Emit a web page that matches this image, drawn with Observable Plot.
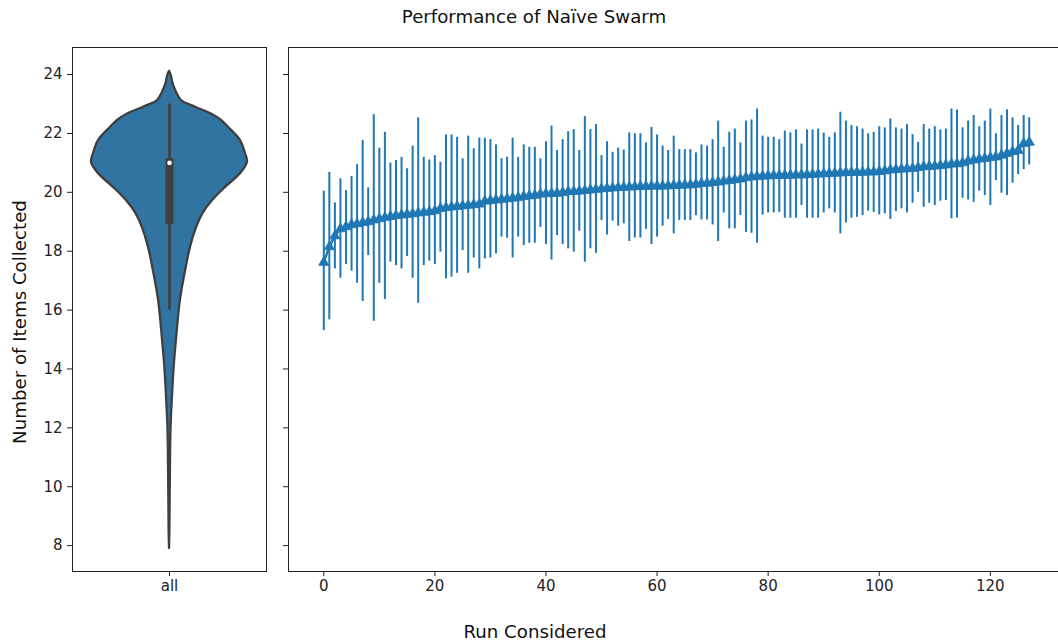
<!DOCTYPE html>
<html><head><meta charset="utf-8">
<script src="https://cdn.jsdelivr.net/npm/d3@7"></script>
<script src="https://cdn.jsdelivr.net/npm/@observablehq/plot@0.6"></script>
<style>
body{margin:0;background:#fff;}
#wrap{position:relative;width:1058px;height:644px;overflow:hidden;background:#fff;font-family:"DejaVu Sans",sans-serif;}
#wrap svg{position:absolute;max-width:none;}
</style></head><body>
<div id="wrap"></div>
<script>
// ---- Text ----
const titleText = "Performance of Naïve Swarm";
const yLabelText = "Number of Items Collected";
const xLabelText = "Run Considered";
const violinCategory = "all";

// ---- Axis ticks ----
const yTicks = [8, 10, 12, 14, 16, 18, 20, 22, 24];
const xTicks = [0, 20, 40, 60, 80, 100, 120];

// ---- Violin (left panel): value vs half-width (density) ----
const violinY = [24.11, 23.95, 23.7, 23.4, 23.12, 22.89, 22.66, 22.44, 22.21, 21.76, 21.31, 21.02, 20.63, 20.17, 19.72, 19.27, 18.81, 18.13, 17.23, 16.32, 15.0, 14.06, 13.0, 12.0, 10.0, 8.5, 7.9];
const violinW = [0, 0.010, 0.018, 0.036, 0.062, 0.134, 0.216, 0.268, 0.304, 0.366, 0.392, 0.402, 0.366, 0.289, 0.222, 0.172, 0.140, 0.108, 0.080, 0.056, 0.036, 0.024, 0.015, 0.008, 0.004, 0.002, 0];
// inner box
const boxQ1 = 18.9, boxMedian = 21.0, boxQ3 = 21.15, whiskerLow = 16.0, whiskerHigh = 23.0;

// ---- Per-run error bars (right panel) ----
const meanItems = [
17.62, 18.15, 18.52, 18.76, 18.83, 18.90, 18.93, 18.97, 19.00, 19.06,
19.10, 19.14, 19.18, 19.21, 19.23, 19.25, 19.27, 19.30, 19.32, 19.34,
19.37, 19.45, 19.48, 19.50, 19.52, 19.54, 19.56, 19.58, 19.60, 19.70,
19.72, 19.74, 19.76, 19.78, 19.80, 19.82, 19.86, 19.88, 19.90, 19.94,
19.95, 19.96, 19.97, 19.99, 20.02, 20.03, 20.04, 20.06, 20.08, 20.10,
20.12, 20.13, 20.15, 20.16, 20.17, 20.18, 20.19, 20.20, 20.20, 20.21,
20.21, 20.21, 20.22, 20.23, 20.24, 20.25, 20.25, 20.27, 20.30, 20.31,
20.33, 20.35, 20.38, 20.40, 20.43, 20.45, 20.50, 20.52, 20.54, 20.55,
20.56, 20.57, 20.57, 20.58, 20.58, 20.59, 20.59, 20.60, 20.61, 20.62,
20.63, 20.64, 20.65, 20.66, 20.67, 20.68, 20.68, 20.68, 20.69, 20.69,
20.71, 20.73, 20.76, 20.77, 20.79, 20.80, 20.81, 20.84, 20.87, 20.88,
20.89, 20.91, 20.93, 20.96, 20.97, 21.00, 21.06, 21.10, 21.13, 21.15,
21.18, 21.20, 21.26, 21.32, 21.38, 21.42, 21.66, 21.70];
const upperItems = [
20.04, 20.68, 19.64, 20.46, 20.06, 20.54, 20.94, 21.76, 20.15, 22.64,
21.50, 22.04, 20.99, 21.08, 21.19, 20.80, 21.57, 22.53, 21.19, 21.10,
21.25, 21.02, 21.95, 21.95, 21.87, 21.14, 21.91, 21.48, 21.84, 21.84,
21.79, 21.61, 21.14, 21.19, 21.84, 21.19, 21.61, 21.53, 21.53, 21.14,
21.72, 22.25, 21.42, 21.79, 22.06, 22.13, 21.42, 22.57, 22.13, 22.30,
21.25, 21.72, 21.36, 21.50, 21.44, 22.02, 21.99, 21.99, 21.68, 22.21,
21.95, 21.57, 21.42, 21.91, 21.45, 21.45, 21.45, 21.34, 21.61, 21.57,
21.79, 22.42, 21.53, 22.04, 22.15, 21.68, 22.42, 22.46, 22.83, 21.91,
21.87, 21.87, 21.79, 22.08, 22.02, 22.12, 21.64, 22.12, 22.12, 22.15,
22.01, 21.87, 22.02, 22.72, 22.42, 22.27, 22.23, 22.15, 21.99, 22.04,
22.23, 22.19, 22.49, 22.19, 22.15, 22.30, 21.96, 21.70, 22.30, 22.15,
22.23, 22.12, 22.15, 22.83, 22.80, 22.19, 22.42, 22.61, 22.23, 22.42,
22.83, 21.99, 22.61, 22.80, 22.53, 22.27, 22.61, 22.53];
const lowerItems = [
15.30, 15.67, 17.40, 17.08, 17.55, 17.32, 16.91, 16.29, 17.85, 15.62,
16.91, 16.36, 17.63, 17.51, 17.40, 17.82, 17.08, 16.23, 17.51, 17.66,
17.55, 17.97, 17.06, 17.12, 17.25, 18.02, 17.25, 17.77, 17.40, 17.74,
17.77, 17.91, 18.48, 18.44, 17.77, 18.48, 18.19, 18.27, 18.27, 18.81,
18.23, 17.70, 18.53, 18.23, 18.08, 17.97, 18.68, 17.63, 18.08, 17.93,
19.04, 18.55, 19.02, 18.85, 18.93, 18.33, 18.45, 18.45, 18.74, 18.23,
18.48, 18.85, 19.08, 18.59, 19.04, 19.04, 19.04, 19.21, 19.06, 19.06,
18.89, 18.33, 19.30, 18.76, 18.76, 19.21, 18.64, 18.61, 18.27, 19.23,
19.30, 19.30, 19.32, 19.12, 19.12, 19.12, 19.55, 19.12, 19.12, 19.12,
19.30, 19.44, 19.30, 18.59, 18.96, 19.12, 19.15, 19.21, 19.36, 19.32,
19.23, 19.27, 19.08, 19.35, 19.44, 19.30, 19.63, 20.00, 19.49, 19.63,
19.55, 19.70, 19.72, 19.10, 19.13, 19.80, 19.74, 19.66, 20.04, 19.89,
19.55, 20.40, 19.97, 19.89, 20.31, 20.60, 20.77, 20.93];

// ---- Build tables ----
const runs = meanItems.map((m, i) => ({run: i, mean: m, lo: lowerItems[i], hi: upperItems[i]}));
const violin = violinY.map((y, i) => ({y, w: violinW[i]}));
const box = [{x: 0, q1: boxQ1, q3: boxQ3, med: boxMedian, lo: whiskerLow, hi: whiskerHigh}];

const blue = "#1f77b4";
const violinFill = "#3274a1";
const gray = "#3f3f3f";
const yDomain = [7.12, 24.92];
const baseStyle = {fontFamily: "DejaVu Sans", fontSize: "15px", color: "#222", background: "transparent", overflow: "visible", maxWidth: "none"};

const left = Plot.plot({
  width: 280, height: 644,
  marginLeft: 72, marginRight: 14, marginTop: 47, marginBottom: 73,
  x: {domain: [-0.5, 0.5], ticks: [0], tickFormat: () => violinCategory, label: null, tickSize: 5, tickPadding: 4},
  y: {domain: yDomain, ticks: yTicks, label: null, tickSize: 5, tickPadding: 5},
  style: baseStyle,
  marks: [
    Plot.areaX(violin, {y: "y", x1: d => -d.w, x2: d => d.w, fill: violinFill, stroke: gray, strokeWidth: 2.3, curve: "catmull-rom"}),
    Plot.ruleX(box, {x: "x", y1: "lo", y2: "hi", stroke: gray, strokeWidth: 2.6}),
    Plot.ruleX(box, {x: "x", y1: "q1", y2: "q3", stroke: gray, strokeWidth: 8}),
    Plot.dot(box, {x: "x", y: "med", r: 2.3, fill: "white", stroke: "none"}),
    Plot.frame({stroke: "#222", strokeWidth: 1})
  ]
});
left.style.left = "0px"; left.style.top = "0px";

const right = Plot.plot({
  width: 778, height: 644,
  marginLeft: 8, marginRight: -6, marginTop: 47, marginBottom: 73,
  x: {domain: [-6.35, 133.35], ticks: xTicks, label: null, tickSize: 5, tickPadding: 4},
  y: {domain: yDomain, ticks: yTicks, tickFormat: () => "", label: null, tickSize: 5},
  style: baseStyle,
  marks: [
    Plot.ruleX(runs, {x: "run", y1: "lo", y2: "hi", stroke: blue, strokeWidth: 2}),
    Plot.line(runs, {x: "run", y: "mean", stroke: blue, strokeWidth: 2.4}),
    Plot.dot(runs, {x: "run", y: "mean", symbol: "triangle", r: 3.8, fill: blue, stroke: blue, strokeWidth: 0.8}),
    Plot.frame({stroke: "#222", strokeWidth: 1})
  ]
});
right.style.left = "280px"; right.style.top = "0px";

const wrap = document.getElementById("wrap");
wrap.appendChild(left);
wrap.appendChild(right);

// ---- Titles / labels ----
const ov = d3.select(wrap).append("svg")
  .attr("width", 1058).attr("height", 644)
  .style("left", "0px").style("top", "0px").style("pointer-events", "none")
  .style("font-family", "DejaVu Sans");
ov.append("text").attr("x", 534).attr("y", 23).attr("text-anchor", "middle")
  .style("font-size", "18.2px").attr("fill", "#111").text(titleText);
ov.append("text").attr("x", 535).attr("y", 638).attr("text-anchor", "middle")
  .style("font-size", "18.2px").attr("fill", "#111").text(xLabelText);
ov.append("text").attr("transform", "translate(26,322) rotate(-90)").attr("text-anchor", "middle")
  .style("font-size", "18.2px").attr("fill", "#111").text(yLabelText);
</script>
</body></html>
